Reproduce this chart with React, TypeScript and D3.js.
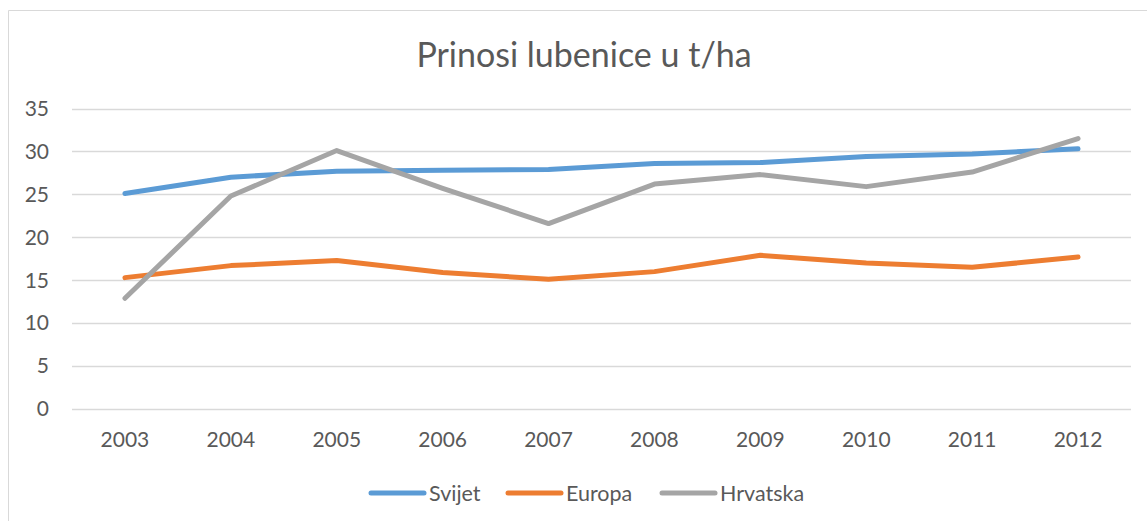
import React, { useEffect, useRef } from "react";
import * as d3 from "d3";

const years = ["2003", "2004", "2005", "2006", "2007", "2008", "2009", "2010", "2011", "2012"];
const svijet = [25.1, 27.0, 27.7, 27.8, 27.9, 28.6, 28.7, 29.4, 29.7, 30.3];
const europa = [15.3, 16.7, 17.3, 15.9, 15.1, 16.0, 17.9, 17.0, 16.5, 17.7];
const hrvatska = [12.9, 24.8, 30.1, 25.7, 21.6, 26.2, 27.3, 25.9, 27.6, 31.5];
const yTicks = [0, 5, 10, 15, 20, 25, 30, 35];

const series = [
  { name: "Svijet", values: svijet, color: "#5B9BD5" },
  { name: "Europa", values: europa, color: "#ED7D31" },
  { name: "Hrvatska", values: hrvatska, color: "#A5A5A5" },
];

const W = 1147;
const H = 521;
const FONT = "Lato, 'Open Sans', sans-serif";

export default function App() {
  const ref = useRef<SVGSVGElement>(null);

  useEffect(() => {
    const svg = d3.select(ref.current);
    svg.selectAll("*").remove();

    const left = 72, right = 1131, top = 108.5, bottom = 409;

    // chart frame (right and bottom edges are cut off in the picture)
    svg.append("path")
      .attr("d", `M8.5,${H} V10.5 H${W}`)
      .attr("fill", "none")
      .attr("stroke", "#D9D9D9")
      .attr("stroke-width", 1);

    const x = d3.scaleBand().domain(years).range([left, right]);
    const y = d3.scaleLinear().domain([0, 35]).range([bottom, top]);

    // gridlines
    svg.append("g")
      .selectAll("line")
      .data(yTicks)
      .join("line")
      .attr("x1", left)
      .attr("x2", right)
      .attr("y1", d => Math.round(y(d)) + 0.5)
      .attr("y2", d => Math.round(y(d)) + 0.5)
      .attr("stroke", "#D9D9D9")
      .attr("stroke-width", 1.3);

    // y labels
    svg.append("g")
      .selectAll("text")
      .data(yTicks)
      .join("text")
      .attr("x", 49)
      .attr("y", d => y(d))
      .attr("dy", "0.35em")
      .attr("text-anchor", "end")
      .attr("fill", "#595959")
      .style("font", `21px ${FONT}`)
      .text(d => d);

    // x labels
    svg.append("g")
      .selectAll("text")
      .data(years)
      .join("text")
      .attr("x", d => x(d)! + x.bandwidth() / 2)
      .attr("y", 440)
      .attr("dy", "0.35em")
      .attr("text-anchor", "middle")
      .attr("fill", "#595959")
      .style("font", `21px ${FONT}`)
      .text(d => d);

    // lines
    const line = d3.line<number>()
      .x((_, i) => x(years[i])! + x.bandwidth() / 2)
      .y(d => y(d));

    svg.append("g")
      .selectAll("path")
      .data(series)
      .join("path")
      .attr("d", d => line(d.values))
      .attr("fill", "none")
      .attr("stroke", d => d.color)
      .attr("stroke-width", 5)
      .attr("stroke-linecap", "round")
      .attr("stroke-linejoin", "round");

    // title
    svg.append("text")
      .attr("x", 584)
      .attr("y", 55)
      .attr("dy", "0.35em")
      .attr("text-anchor", "middle")
      .attr("fill", "#595959")
      .style("font", `34px ${FONT}`)
      .text("Prinosi lubenice u t/ha");

    // legend
    const legendX = [370, 507, 661];
    const lg = svg.append("g")
      .selectAll("g")
      .data(series)
      .join("g")
      .attr("transform", (_, i) => `translate(${legendX[i]},493)`);
    lg.append("line")
      .attr("x1", 1)
      .attr("x2", 54)
      .attr("stroke", d => d.color)
      .attr("stroke-width", 5)
      .attr("stroke-linecap", "round");
    lg.append("text")
      .attr("x", 59)
      .attr("dy", "0.35em")
      .attr("fill", "#595959")
      .style("font", `21.5px ${FONT}`)
      .text(d => d.name);
  }, []);

  return (
    <svg
      ref={ref}
      width={W}
      height={H}
      style={{ position: "absolute", left: 0, top: 0, background: "#fff" }}
    />
  );
}
